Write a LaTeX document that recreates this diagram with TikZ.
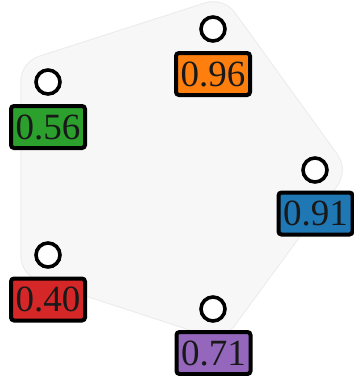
\documentclass[tikz,border=0pt]{standalone}
\usepackage{fontspec}
\setmainfont{Liberation Serif}
\definecolor{hullfill}{HTML}{F7F7F7}
\definecolor{hulledge}{HTML}{EBEBEB}
\definecolor{cOrange}{HTML}{FF7F0E}
\definecolor{cGreen}{HTML}{2CA02C}
\definecolor{cBlue}{HTML}{1F77B4}
\definecolor{cRed}{HTML}{D62728}
\definecolor{cPurple}{HTML}{9467BD}
\begin{document}
\begin{tikzpicture}[x=1pt,y=-1pt,
  dot/.style={circle,draw=black,fill=white,line width=3.6pt,minimum size=24pt,inner sep=0pt},
  valbox/.style={draw=black,line width=4pt,rounded corners=3pt,minimum width=74pt,minimum height=42pt,inner sep=0pt,
    font=\fontsize{37}{40}\selectfont,text=black!90}]
\useasboundingbox (0,0) rectangle (354,376);
% hull
\coordinate (hO) at (213,29);
\coordinate (hG) at (48,82);
\coordinate (hB) at (315,170);
\coordinate (hR) at (48,255);
\coordinate (hP) at (213,309);
\filldraw[draw=hulledge,fill=hulledge,line width=55.5pt,line join=round] (hO) -- (hB) -- (hP) -- (hR) -- (hG) -- cycle;
\filldraw[draw=hullfill,fill=hullfill,line width=53.5pt,line join=round] (hO) -- (hB) -- (hP) -- (hR) -- (hG) -- cycle;
% dots
\node[dot] (dO) at (hO) {};
\node[dot] (dG) at (hG) {};
\node[dot] (dB) at (hB) {};
\node[dot] (dR) at (hR) {};
\node[dot] (dP) at (hP) {};
% boxes
\node[valbox,fill=cOrange] (bO) at (213,74) {0.96};
\node[valbox,fill=cGreen] (bG) at (48,127) {0.56};
\node[valbox,fill=cBlue] (bB) at (315.5,213.5) {0.91};
\node[valbox,fill=cRed] (bR) at (48,299.5) {0.40};
\node[valbox,fill=cPurple] (bP) at (213.5,353) {0.71};
\end{tikzpicture}
\end{document}
